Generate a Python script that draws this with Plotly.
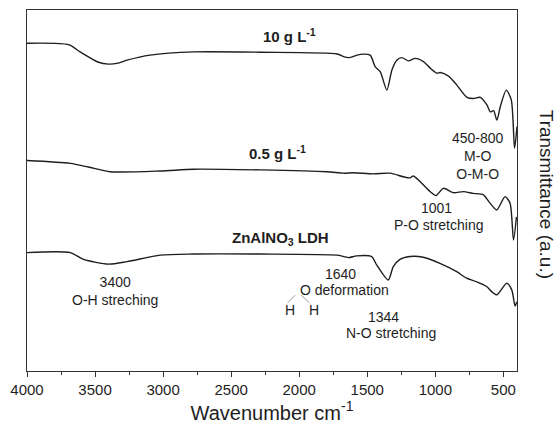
import plotly.graph_objects as go

# FTIR spectra (wavenumber in cm^-1, transmittance in arbitrary units)
wn_10 = [4000, 3694, 3610, 3480, 3400, 3330, 3265, 3096, 2775, 2287, 1721, 1675, 1638,
         1552, 1479, 1442, 1405, 1356, 1319, 1283, 1246, 1197, 1148, 1087, 1038, 989,
         964, 903, 842, 768, 719, 670, 621, 597, 572, 548, 523, 479, 442, 418, 400]
t_10 = [90.8, 90.4, 88.4, 85.6, 85.0, 85.3, 86.1, 87.5, 88.4, 88.3, 87.8, 87.1, 86.8,
        87.7, 87.5, 84.3, 82.9, 77.8, 83.4, 86.1, 86.8, 85.9, 86.6, 85.7, 83.9, 82.5,
        82.7, 81.7, 79.2, 75.8, 75.5, 75.8, 73.7, 71.8, 72.1, 69.5, 73.2, 77.8, 75.1, 61.7, 67.7]

wn_05 = [4000, 3682, 3550, 3388, 3020, 2775, 2288, 1796, 1675, 1602, 1455, 1333, 1235,
         1186, 1162, 1100, 1039, 995, 941, 868, 794, 721, 647, 598, 549, 488, 451, 426, 404]
t_05 = [58.3, 57.5, 56.5, 55.2, 55.4, 55.9, 55.7, 55.2, 54.8, 54.9, 54.6, 54.8, 53.8,
        53.5, 54.0, 52.0, 49.7, 48.6, 50.6, 49.4, 49.7, 49.2, 48.8, 46.5, 44.6, 48.3, 46.5, 36.3, 42.7]

wn_ldh = [4000, 3682, 3584, 3400, 3265, 3020, 2775, 2288, 1722, 1673, 1635, 1578, 1468,
          1431, 1346, 1309, 1260, 1187, 1089, 966, 843, 770, 696, 623, 586, 549, 475, 438, 414, 401]
t_ldh = [32.8, 32.8, 30.9, 29.6, 30.3, 32.1, 32.4, 32.4, 32.1, 31.7, 31.4, 31.9, 31.7,
         29.4, 25.2, 28.9, 30.9, 31.7, 31.5, 29.8, 27.5, 25.7, 24.7, 23.4, 22.0, 21.1, 24.3, 22.4, 18.0, 19.2]

FONT = "Liberation Sans, Arial, sans-serif"
INK = "#1e1e1e"

fig = go.Figure()
for wn, t in [(wn_10, t_10), (wn_05, t_05), (wn_ldh, t_ldh)]:
    fig.add_trace(go.Scatter(x=wn, y=t, mode="lines",
                             line=dict(color=INK, width=1.4, shape="spline", smoothing=0.7),
                             hoverinfo="skip"))

def note(x, y, text, size=14, bold=False, xanchor="center"):
    fig.add_annotation(x=x, y=y, text=f"<b>{text}</b>" if bold else text,
                       showarrow=False, xanchor=xanchor, yanchor="middle",
                       font=dict(family=FONT, size=size, color=INK), align="center")

# sample labels
note(2068, 92.8, "10 g L<sup>-1</sup>", size=15, bold=True)
note(2160, 60.4, "0.5 g L<sup>-1</sup>", size=15, bold=True)
note(2141, 36.6, "ZnAlNO<sub>3</sub> LDH", size=15, bold=True)

# band assignments
note(3353, 22.3, "3400<br>O-H streching")
note(1700, 26.9, "1640")
note(2009, 22.4, "O deformation", xanchor="left")
note(2068, 17.0, "H")
note(1891, 17.0, "H")
note(1384, 15.0, "1344")
note(1326, 10.5, "N-O stretching")
note(988, 45.2, "1001")
note(980, 40.4, "P-O stretching")
note(686, 59.6, "450-800<br>M-O<br>O-M-O")

# bonds of the water molecule sketch
for x0, x1 in [(2030, 2085), (1985, 1925)]:
    fig.add_shape(type="line", x0=x0, x1=x1, y0=21.0, y1=18.9,
                  line=dict(color="#9a9a9a", width=1))

fig.add_annotation(xref="paper", yref="paper", x=1.062, y=0.49,
                   xanchor="center", yanchor="middle",
                   text="Transmittance (a.u.)", textangle=90, showarrow=False,
                   font=dict(family=FONT, size=19, color=INK))

fig.update_xaxes(range=[4000, 400], tickmode="linear", tick0=0, dtick=500,
                 ticks="outside", ticklen=5, tickwidth=1.2, tickcolor="#333333",
                 minor=dict(ticks="outside", ticklen=3, dtick=250, tickcolor="#333333", tickwidth=1.2),
                 showline=True, linecolor="#333333", linewidth=1.4, mirror=True,
                 showgrid=False, zeroline=False,
                 tickfont=dict(family=FONT, size=15, color=INK),
                 title=dict(text="Wavenumber cm<sup>-1</sup>", standoff=6,
                            font=dict(family=FONT, size=20, color=INK)))
fig.update_yaxes(range=[0, 100], showticklabels=False, ticks="",
                 showline=True, linecolor="#333333", linewidth=1.4, mirror=True,
                 showgrid=False, zeroline=False)

fig.update_layout(width=560, height=431, margin=dict(l=27, r=43, t=10, b=60),
                  plot_bgcolor="white", paper_bgcolor="white", showlegend=False)

fig.write_html("out.html")
